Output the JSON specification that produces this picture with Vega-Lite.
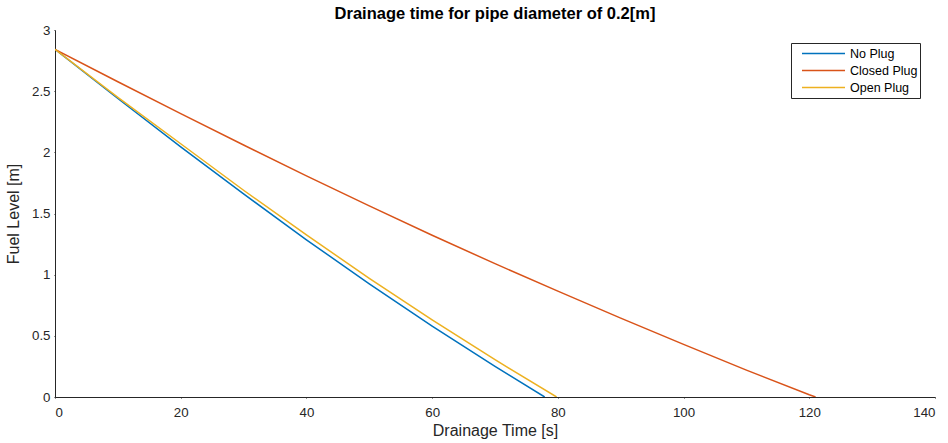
{
  "$schema": "https://vega.github.io/schema/vega-lite/v6.json",
  "width": 880,
  "height": 367,
  "autosize": {"type": "none"},
  "padding": {"left": 55, "top": 30, "right": 13, "bottom": 46},
  "background": "white",
  "config": {
    "font": "Liberation Sans",
    "view": {"stroke": null},
    "axis": {
      "domainColor": "#262626",
      "tickColor": "#262626",
      "labelColor": "#262626",
      "titleColor": "#262626",
      "grid": false,
      "ticks": true,
      "tickSize": 1,
      "tickWidth": 1,
      "labelFontSize": 13.3,
      "titleFontSize": 16,
      "titleFontWeight": "normal",
      "domainWidth": 1
    }
  },
  "title": {
    "text": "Drainage time for pipe diameter of 0.2[m]",
    "fontSize": 16.5,
    "fontWeight": "bold",
    "color": "#000000",
    "anchor": "middle",
    "offset": 1
  },
  "data": {
    "values": [
      {"t": 0, "h": 2.842, "s": "No Plug"},
      {"t": 10, "h": 2.44, "s": "No Plug"},
      {"t": 20, "h": 2.045, "s": "No Plug"},
      {"t": 30, "h": 1.66, "s": "No Plug"},
      {"t": 40, "h": 1.285, "s": "No Plug"},
      {"t": 50, "h": 0.925, "s": "No Plug"},
      {"t": 60, "h": 0.58, "s": "No Plug"},
      {"t": 70, "h": 0.25, "s": "No Plug"},
      {"t": 77.9, "h": 0, "s": "No Plug"},
      {"t": 0, "h": 2.842, "s": "Closed Plug"},
      {"t": 10, "h": 2.577, "s": "Closed Plug"},
      {"t": 20, "h": 2.317, "s": "Closed Plug"},
      {"t": 30, "h": 2.06, "s": "Closed Plug"},
      {"t": 40, "h": 1.807, "s": "Closed Plug"},
      {"t": 50, "h": 1.562, "s": "Closed Plug"},
      {"t": 60, "h": 1.322, "s": "Closed Plug"},
      {"t": 70, "h": 1.09, "s": "Closed Plug"},
      {"t": 80, "h": 0.865, "s": "Closed Plug"},
      {"t": 90, "h": 0.645, "s": "Closed Plug"},
      {"t": 100, "h": 0.43, "s": "Closed Plug"},
      {"t": 110, "h": 0.22, "s": "Closed Plug"},
      {"t": 120, "h": 0.018, "s": "Closed Plug"},
      {"t": 121, "h": 0, "s": "Closed Plug"},
      {"t": 0, "h": 2.842, "s": "Open Plug"},
      {"t": 10, "h": 2.45, "s": "Open Plug"},
      {"t": 20, "h": 2.07, "s": "Open Plug"},
      {"t": 30, "h": 1.69, "s": "Open Plug"},
      {"t": 40, "h": 1.325, "s": "Open Plug"},
      {"t": 50, "h": 0.97, "s": "Open Plug"},
      {"t": 60, "h": 0.63, "s": "Open Plug"},
      {"t": 70, "h": 0.305, "s": "Open Plug"},
      {"t": 79.8, "h": 0, "s": "Open Plug"}
    ]
  },
  "mark": {"type": "line", "strokeWidth": 1.5, "clip": true},
  "encoding": {
    "x": {
      "field": "t",
      "type": "quantitative",
      "scale": {"domain": [0, 140], "nice": false, "zero": false},
      "axis": {
        "title": "Drainage Time [s]",
        "values": [0, 20, 40, 60, 80, 100, 120, 140],
        "labelPadding": 7,
        "titlePadding": 4,
        "encoding": {"ticks": {"update": {"y2": {"value": -9}}}}
      }
    },
    "y": {
      "field": "h",
      "type": "quantitative",
      "scale": {"domain": [0, 3], "nice": false},
      "axis": {
        "title": "Fuel Level [m]",
        "values": [0, 0.5, 1, 1.5, 2, 2.5, 3],
        "format": "~g",
        "labelPadding": 4,
        "titlePadding": 10,
        "encoding": {"ticks": {"update": {"x2": {"value": 9}}}}
      }
    },
    "color": {
      "field": "s",
      "type": "nominal",
      "sort": ["No Plug", "Closed Plug", "Open Plug"],
      "scale": {
        "domain": ["No Plug", "Closed Plug", "Open Plug"],
        "range": ["#0072BD", "#D95319", "#EDB120"]
      },
      "legend": {
        "title": null,
        "orient": "none",
        "legendX": 736,
        "legendY": 13,
        "direction": "vertical",
        "symbolType": "stroke",
        "symbolSize": 1849,
        "symbolStrokeWidth": 1.5,
        "labelFontSize": 12.5,
        "labelColor": "#000000",
        "strokeColor": "#262626",
        "fillColor": "white",
        "padding": 2,
        "clipHeight": 17,
        "rowPadding": 0,
        "symbolOffset": 8,
        "labelOffset": 4
      }
    }
  }
}
